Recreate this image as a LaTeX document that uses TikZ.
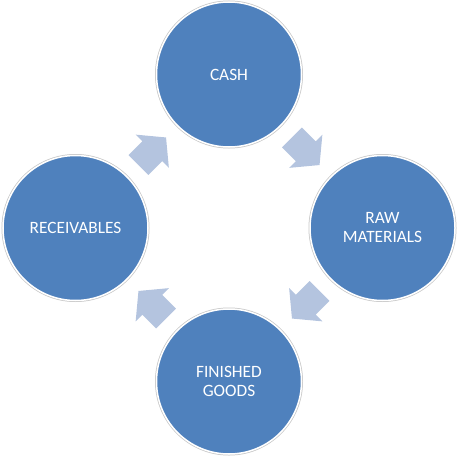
\documentclass[tikz,border=0pt]{standalone}
\usepackage{fontspec}
\setmainfont{Carlito}
\usepackage{tikz}
\usetikzlibrary{calc}
\definecolor{stageblue}{RGB}{79,129,189}
\definecolor{flowblue}{RGB}{180,196,223}
\tikzset{
  stage/.style = {circle, fill=stageblue, draw=white, line width=1.5pt,
    preaction={draw=black!22, line width=3pt},
    minimum size=145pt, inner sep=0pt, text=white, align=center,
    font=\fontsize{17.3}{19}\selectfont},
  flow/.style = {fill=flowblue, draw=none},
}
\newcommand{\cyclearrow}[2]{%
  \fill[flow, shift={#1}, rotate=#2] (-19.5,-14) -- (0,-14) -- (0,-23.5) -- (19.5,0)
    -- (0,23.5) -- (0,14) -- (-19.5,14) -- cycle;}

\begin{document}
\begin{tikzpicture}[x=1pt, y=1pt]
			\useasboundingbox (0,0) rectangle (457,456);
			\def\cx{229};
			\def\cy{228};
			\def\d{153.5};

			\node[stage] (cash) at (\cx,\cy+\d) {CASH};
			\node[stage] (raw) at (\cx+\d,\cy) {RAW\\MATERIALS};
			\node[stage] (goods) at (\cx,\cy-\d) {FINISHED\\GOODS};
			\node[stage] (recv) at (\cx-\d,\cy) {RECEIVABLES};

			\cyclearrow{($(cash)!0.5!(raw)$)}{-45}
			\cyclearrow{($(raw)!0.5!(goods)$)}{-135}
			\cyclearrow{($(goods)!0.5!(recv)$)}{135}
			\cyclearrow{($(recv)!0.5!(cash)$)}{45}
		\end{tikzpicture}
\end{document}
